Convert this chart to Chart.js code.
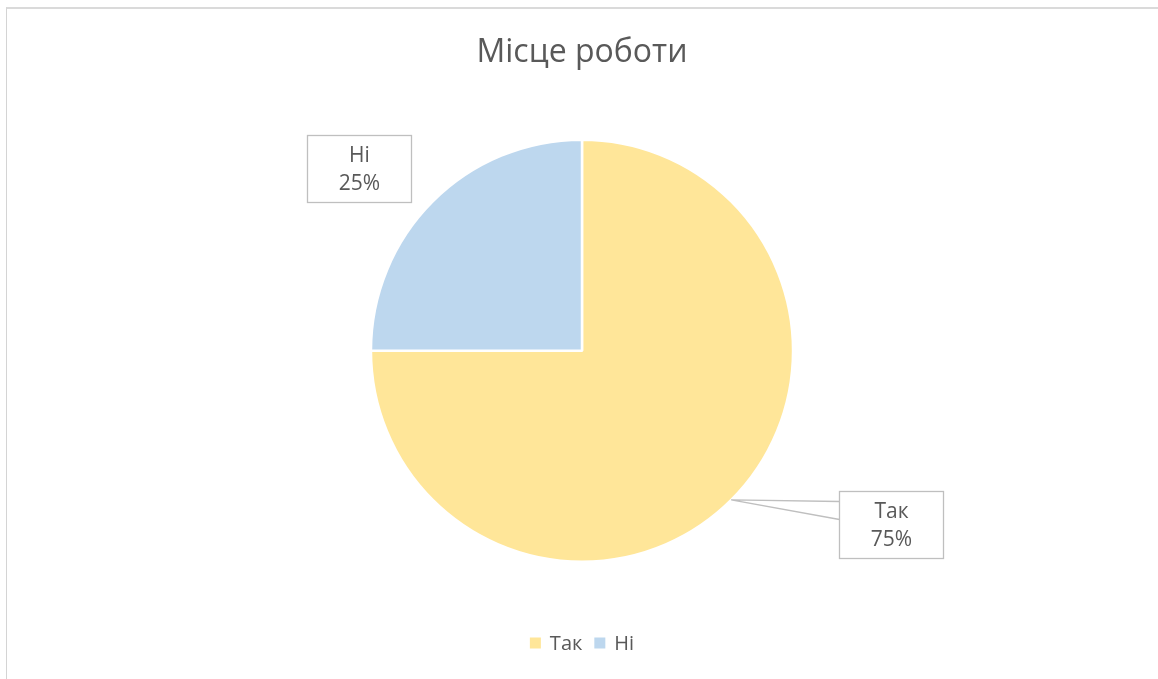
<!DOCTYPE html>
<html lang="uk">
<head>
<meta charset="utf-8">
<title>Місце роботи</title>
<script src="https://cdn.jsdelivr.net/npm/chart.js@4.4.0/dist/chart.umd.min.js"></script>
<style>
  html, body { margin: 0; padding: 0; background: #fff; }
  body { width: 1158px; height: 679px; overflow: hidden; position: relative; }
  #frame { position: absolute; left: 6px; top: 7px; width: 1170px; height: 690px;
           border-top: 2px solid #dadada; border-left: 1px solid #d4d4d4; box-sizing: border-box; }
  #wrap { position: absolute; left: 6px; top: 7px; width: 1152px; height: 672px; }
</style>
</head>
<body>
<div id="frame"></div>
<div id="wrap"><canvas id="pieChart"></canvas></div>
<script>
// Дані діаграми
const categories = ['Так', 'Ні'];
const values = [75, 25];
const colors = ['#FFE699', '#BDD7EE'];
const chartTitle = 'Місце роботи';

const FONT = "'Open Sans', 'Noto Sans', sans-serif";
const TEXT_COLOR = '#595959';

// ── Підписи у рамках (як в Excel) ───────────────────────────────
const calloutPlugin = {
    id: 'callouts',
    afterDatasetsDraw(chart, args, opts) {
        const ctx = chart.ctx;
        const meta = chart.getDatasetMeta(0);
        const data = chart.data.datasets[0].data;
        const total = data.reduce((a, b) => a + b, 0);

        meta.data.forEach((arc, i) => {
            const p = arc.getProps(['x', 'y', 'outerRadius', 'startAngle', 'endAngle'], true);
            const off = opts.offsets[i];
            const cx = p.x + off.dx * p.outerRadius;
            const cy = p.y + off.dy * p.outerRadius;
            const w = opts.boxWidth, h = opts.boxHeight;
            const left = Math.round(cx - w / 2) + 0.5;
            const top = Math.round(cy - h / 2) + 0.5;

            ctx.save();
            ctx.strokeStyle = '#bfbfbf';
            ctx.lineWidth = 1.3;

            if (off.leader) {
                const mid = (p.startAngle + p.endAngle) / 2;
                const ex = p.x + Math.cos(mid) * p.outerRadius;
                const ey = p.y + Math.sin(mid) * p.outerRadius;
                ctx.beginPath();
                ctx.moveTo(left, top + 10);
                ctx.lineTo(ex, ey);
                ctx.lineTo(left, top + 28);
                ctx.fillStyle = '#fff';
                ctx.fill();
                ctx.stroke();
            }

            ctx.fillStyle = '#fff';
            ctx.fillRect(left, top, w, h);
            ctx.strokeRect(left, top, w, h);

            const pct = Math.round(data[i] / total * 100) + '%';
            ctx.fillStyle = TEXT_COLOR;
            ctx.font = `21px ${FONT}`;
            ctx.textAlign = 'center';
            ctx.textBaseline = 'middle';
            ctx.fillText(chart.data.labels[i], left + w / 2, top + h / 2 - 13);
            ctx.fillText(pct, left + w / 2, top + h / 2 + 15);
            ctx.restore();
        });
    }
};

// ── Легенда внизу ───────────────────────────────────────────────
const legendPlugin = {
    id: 'bottomLegend',
    afterDraw(chart, args, opts) {
        const ctx = chart.ctx;
        const labels = chart.data.labels;
        const bg = chart.data.datasets[0].backgroundColor;
        ctx.save();
        ctx.font = `20px ${FONT}`;
        const box = 11, gap = 9, spacing = 12;
        const widths = labels.map(l => box + gap + ctx.measureText(l).width);
        const totalW = widths.reduce((a, b) => a + b, 0) + spacing * (labels.length - 1);
        const area = chart.chartArea;
        let x = (area.left + area.right) / 2 - totalW / 2;
        const y = opts.y;
        labels.forEach((l, i) => {
            ctx.fillStyle = bg[i];
            ctx.fillRect(x, y - box / 2, box, box);
            ctx.fillStyle = TEXT_COLOR;
            ctx.textAlign = 'left';
            ctx.textBaseline = 'middle';
            ctx.fillText(l, x + box + gap, y + 1);
            x += widths[i] + spacing;
        });
        ctx.restore();
    }
};

Chart.defaults.font.family = FONT;

new Chart(document.getElementById('pieChart').getContext('2d'), {
    type: 'pie',
    data: {
        labels: categories,
        datasets: [{
            data: values,
            backgroundColor: colors,
            borderColor: '#fff',
            borderWidth: 2.5
        }]
    },
    options: {
        responsive: true,
        maintainAspectRatio: false,
        animation: false,
        layout: { padding: { bottom: 116 } },
        plugins: {
            legend: { display: false },
            tooltip: { enabled: false },
            title: {
                display: true,
                text: chartTitle,
                color: TEXT_COLOR,
                font: { size: 32, weight: 'normal' },
                padding: { top: 27, bottom: 66 }
            },
            callouts: {
                boxWidth: 104,
                boxHeight: 67,
                offsets: [
                    { dx: 1.466, dy: 0.822, leader: true },
                    { dx: -1.058, dy: -0.864, leader: false }
                ]
            },
            bottomLegend: { y: 636 }
        }
    },
    plugins: [calloutPlugin, legendPlugin]
});
</script>
</body>
</html>
